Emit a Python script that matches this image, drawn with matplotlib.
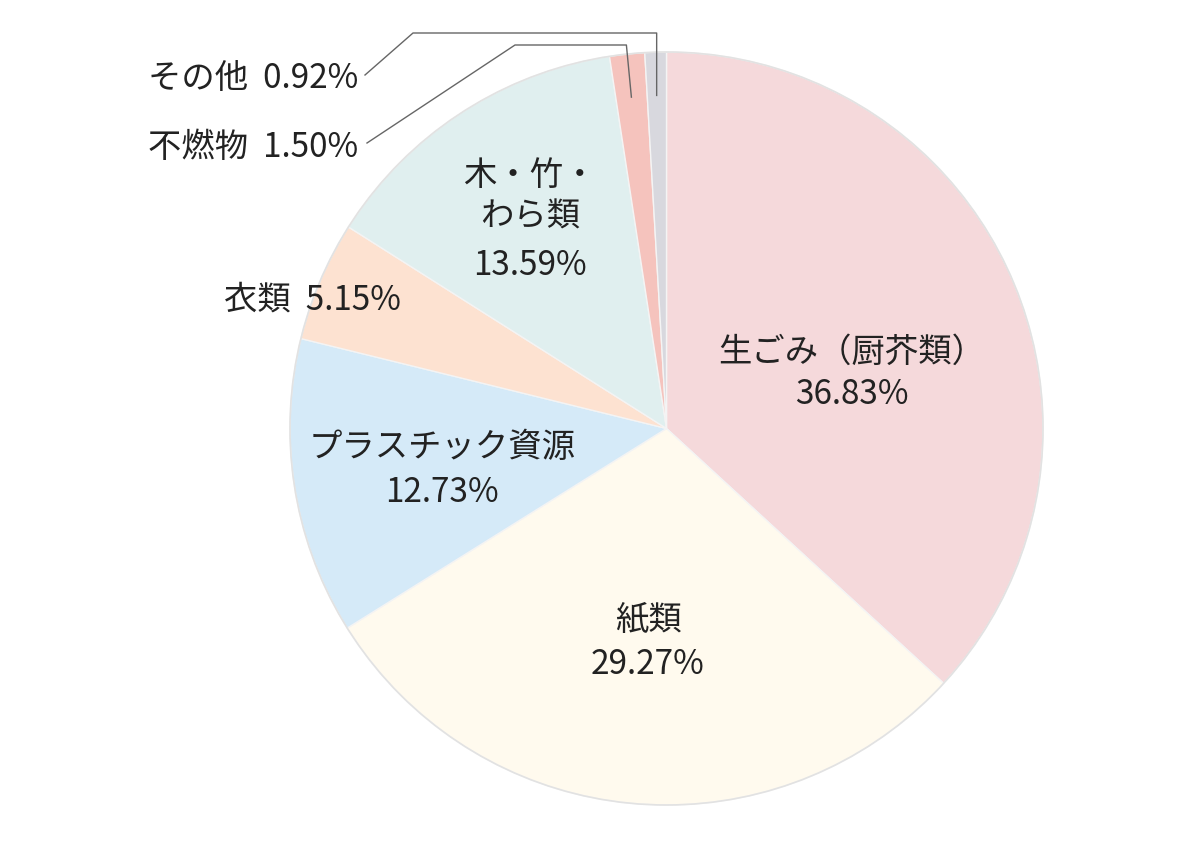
import numpy as np
import matplotlib.pyplot as plt

plt.rcParams['font.family'] = ['Noto Sans CJK JP', 'DejaVu Sans']

# データ
labels = ["生ごみ（厨芥類）", "紙類", "プラスチック資源", "衣類", "木・竹・\nわら類", "不燃物", "その他"]
values = [36.83, 29.27, 12.73, 5.15, 13.59, 1.50, 0.92]
colors = ["#F5D9DB", "#FFFAEE", "#D5EAF8", "#FDE2D1", "#E0EFEF", "#F5C3BD", "#D8D8DE"]

W, H = 1200, 846
cx, cy, R = 666.5, H - 428.5, 376.5

fig = plt.figure(figsize=(12, 8.46), dpi=100)
ax = fig.add_axes([0, 0, 1, 1])

wedges, _ = ax.pie(values, colors=colors, startangle=90, counterclock=False,
                   center=(cx, cy), radius=R,
                   wedgeprops=dict(edgecolor="#f4f4f4", linewidth=1.0))
ax.add_patch(plt.Circle((cx, cy), R, fill=False, ec="#e2e2e2", lw=1.2))

# pie() で範囲が変わるので後で設定
ax.set_xlim(0, W)
ax.set_ylim(0, H)
ax.set_aspect('equal')
ax.axis('off')

txt = "#222222"
fs = 24

def pix(x, y):
    return x, H - y

def pct(v):
    return f"{v:.2f}%"

# 内側のラベル
ax.text(*pix(852, 352), labels[0], ha='center', va='center', fontsize=fs, color=txt)
ax.text(*pix(852, 394), pct(values[0]), ha='center', va='center', fontsize=fs, color=txt)
ax.text(*pix(648, 620), labels[1], ha='center', va='center', fontsize=fs, color=txt)
ax.text(*pix(648, 664), pct(values[1]), ha='center', va='center', fontsize=fs, color=txt)
ax.text(*pix(442, 447), labels[2], ha='center', va='center', fontsize=fs, color=txt)
ax.text(*pix(442, 492), pct(values[2]), ha='center', va='center', fontsize=fs, color=txt)
ax.text(*pix(312, 300), f"{labels[3]}  {pct(values[3])}", ha='center', va='center', fontsize=fs, color=txt)
line1, line2 = labels[4].split("\n")
ax.text(*pix(530, 175), line1, ha='center', va='center', fontsize=fs, color=txt)
ax.text(*pix(530, 217), line2, ha='center', va='center', fontsize=fs, color=txt)
ax.text(*pix(530, 265), pct(values[4]), ha='center', va='center', fontsize=fs, color=txt)

# 外側のラベルと引き出し線
ax.text(*pix(358, 78), f"{labels[6]}  {pct(values[6])}", ha='right', va='center', fontsize=fs, color=txt)
ax.text(*pix(358, 147), f"{labels[5]}  {pct(values[5])}", ha='right', va='center', fontsize=fs, color=txt)

cum = np.cumsum([0] + values)
def mid_point(i, rr=0.885):
    a = np.deg2rad(90 - 360 * (cum[i] + cum[i + 1]) / 2 / 100)
    return cx + R * rr * np.cos(a), cy + R * rr * np.sin(a)

x6, y6 = mid_point(6)
ax.plot([x6, x6, 413, 365], [y6, H - 33, H - 33, H - 75], color="#666666", lw=1)
x5, y5 = mid_point(5)
ax.plot([x5, x5 - 5, 515, 367], [y5, H - 45, H - 45, H - 143], color="#666666", lw=1)

fig.savefig("out.png", dpi=100)
